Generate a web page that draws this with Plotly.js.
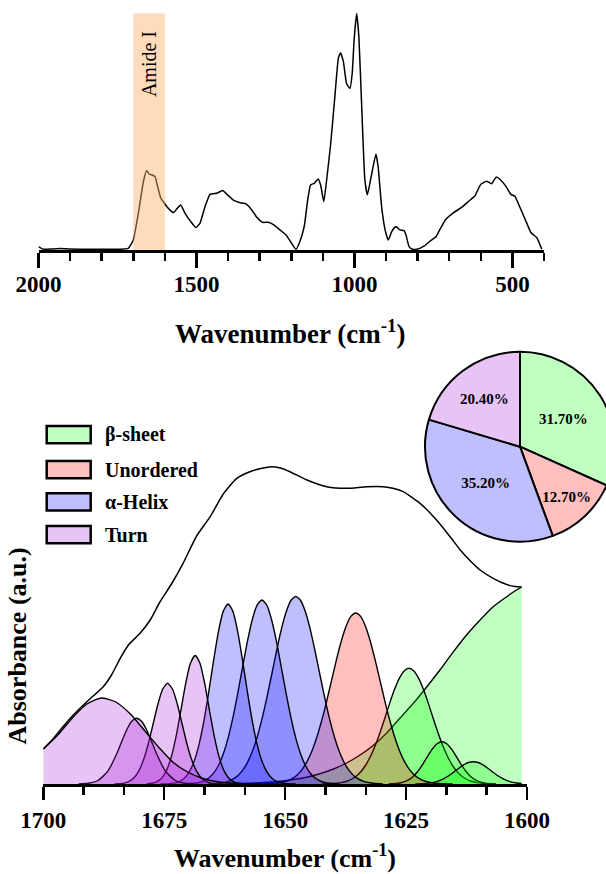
<!DOCTYPE html>
<html>
<head>
<meta charset="utf-8">
<script src="https://cdn.plot.ly/plotly-3.0.1.min.js"></script>
<style>
html, body { margin:0; padding:0; overflow:hidden; background:#fff; }
#chart { width:620px; height:874px; }
</style>
</head>
<body>
<div id="chart"></div>
<script>
// ---------- Top panel: full FTIR spectrum ----------
const topWavenumber = [2000,1990,1980,1960,1930,1900,1850,1800,1742,1716,1700,1684,1668,1658,1649,1640,1631,1623,1613,1605,1589,1573,1561,1550,1536,1518,1502,1489,1473,1457,1436,1417,1402,1383,1362,1343,1325,1309,1291,1273,1255,1236,1217,1202,1185,1173,1159,1148,1139,1127,1115,1107,1097,1088,1075,1062,1051,1044,1035,1025,1014,1007,1001,993,986,977,967,959,949,941,932,925,914,903,893,882,869,856,843,837,827,816,803,793,779,760,742,729.5,711,687,662,637.5,619,600.6,582,566,551.5,539,521,505,492.6,478,459.5,441,422.6,407];
const topAbsorbance = [0.011,0.003,0,0.001,0.003,0.001,0,0,0,0.004,0.039,0.152,0.286,0.332,0.318,0.314,0.307,0.265,0.217,0.201,0.173,0.155,0.173,0.187,0.152,0.117,0.092,0.110,0.180,0.232,0.237,0.248,0.230,0.208,0.197,0.192,0.166,0.135,0.114,0.114,0.103,0.082,0.061,0.032,0,0.032,0.096,0.208,0.272,0.279,0.297,0.272,0.201,0.293,0.448,0.645,0.807,0.831,0.793,0.701,0.680,0.744,0.885,0.997,0.899,0.603,0.293,0.230,0.293,0.349,0.403,0.349,0.180,0.082,0.039,0.075,0.096,0.082,0.079,0.061,0.011,0,0,0.004,0.014,0.035,0.053,0.084,0.126,0.154,0.176,0.204,0.225,0.274,0.288,0.277,0.305,0.295,0.267,0.232,0.225,0.183,0.126,0.070,0.049,0];
const topTickVals = [2000,1500,1000,500];
const amideBand = [1700,1600];
const amideLabel = 'Amide I';

// ---------- Bottom panel: Amide I band deconvolution ----------
const envelope = [[1700,35],[1698,45],[1696.5,54],[1693.8,69],[1691,82.3],[1687.6,97.3],[1685.9,109],[1684.1,125.7],[1682.4,139],[1680,150.7],[1677.9,164],[1675.9,182],[1673.5,200],[1671.1,220.7],[1668.3,248],[1665.5,267.3],[1662.8,290],[1660,305.7],[1657.3,312.3],[1655,315.5],[1652.8,317.3],[1651,316],[1649,312.3],[1645.5,304],[1641.4,297.3],[1637.3,295.7],[1633.1,297.3],[1629.7,297.3],[1627.5,295.5],[1625.6,292.3],[1622.1,280.7],[1618.7,264],[1615.9,247.3],[1613.8,234],[1611.5,222],[1609.7,214],[1607,205.7],[1604.2,199.5],[1602.5,197.5],[1601.1,197]];

const turn1 = [[1700,35],[1697,49],[1694,66],[1691,80],[1688,86],[1685,82],[1682,70],[1679,53],[1676,36],[1673,21],[1670,11.5],[1667,5.5],[1664,2.3],[1660,0.6],[1655,0]];
const turn2 = [[1692.7,0],[1690.7,0.7],[1688.7,3.5],[1686.7,12.6],[1684.7,31.5],[1683.7,43.5],[1682.7,54.7],[1681.7,62.7],[1680.7,65.7],[1679.7,62.7],[1678.7,54.7],[1677.7,43.5],[1676.7,31.5],[1674.7,12.6],[1672.7,3.5],[1670.7,0.7],[1668.7,0]];
const turn3 = [[1685.3,0],[1683.3,0.9],[1682.3,2.5],[1681.3,6],[1680.3,12.7],[1679.3,23.9],[1678.3,40],[1677.3,60],[1676.3,80],[1675.3,95],[1674.3,100.7],[1673.3,95],[1672.3,80],[1671.3,60],[1670.3,40],[1669.3,23.9],[1668.3,12.7],[1667.3,6],[1666.3,2.5],[1665.3,0.9],[1663.3,0]];
const turn4 = [[1678.6,0],[1677.6,0.7],[1676.6,2.2],[1675.6,5.6],[1674.6,12.9],[1673.6,26.1],[1672.6,46.3],[1671.6,72.4],[1670.6,99.6],[1669.6,120.5],[1668.6,128.5],[1667.6,120.5],[1666.6,99.6],[1665.6,72.4],[1664.6,46.3],[1663.6,26.1],[1662.6,12.9],[1661.6,5.6],[1660.6,2.2],[1659.6,0.7],[1658.6,0]];
const helix1 = [[1675.8,0],[1673.8,0.4],[1672.8,1.1],[1671.8,2.7],[1670.8,6],[1669.8,12.3],[1668.8,23],[1667.8,39.7],[1666.8,63],[1665.8,91.9],[1664.8,123.3],[1663.8,152.1],[1662.8,172.6],[1661.8,180],[1660.8,172.6],[1659.8,152.1],[1658.8,123.3],[1657.8,91.9],[1656.8,63],[1655.8,39.7],[1654.8,23],[1653.8,12.3],[1652.8,6],[1651.8,2.7],[1650.8,1.1],[1649.8,0.4],[1647.8,0]];
const helix2 = [[1670.8,0],[1668.8,0.7],[1667.8,1.5],[1666.8,3.1],[1665.8,6],[1664.8,10.8],[1663.8,18.5],[1662.8,30],[1661.8,45.9],[1660.8,66.3],[1659.8,90.6],[1658.8,116.9],[1657.8,142.6],[1656.8,164.3],[1655.8,178.9],[1654.8,184],[1653.8,178.9],[1652.8,164.3],[1651.8,142.6],[1650.8,116.9],[1649.8,90.6],[1648.8,66.3],[1647.8,45.9],[1646.8,30],[1645.8,18.5],[1644.8,10.8],[1643.8,6],[1642.8,3.1],[1641.8,1.5],[1640.8,0.7],[1638.8,0]];
const helix3 = [[1665.8,0],[1663.8,0.7],[1661.8,2.7],[1660.8,4.8],[1659.8,8.3],[1658.8,13.6],[1657.8,21.4],[1656.8,32.4],[1655.8,46.8],[1654.8,64.8],[1653.8,85.9],[1652.8,109],[1651.8,132.5],[1650.8,154.3],[1649.8,171.9],[1648.8,183.5],[1647.8,187.5],[1646.8,183.5],[1645.8,171.9],[1644.8,154.3],[1643.8,132.5],[1642.8,109],[1641.8,85.9],[1640.8,64.8],[1639.8,46.8],[1638.8,32.4],[1637.8,21.4],[1636.8,13.6],[1635.8,8.3],[1634.8,4.8],[1633.8,2.7],[1631.8,0.7],[1629.8,0]];
const unordered1 = [[1655.4,0],[1653.4,0.3],[1651.4,1],[1649.4,3.4],[1648.4,5.8],[1647.4,9.6],[1646.4,15.2],[1645.4,23.1],[1644.4,33.8],[1643.4,47.5],[1642.4,64.2],[1641.4,83.2],[1640.4,103.7],[1639.4,124.2],[1638.4,142.8],[1637.4,157.8],[1636.4,167.6],[1635.4,171],[1634.4,167.6],[1633.4,157.8],[1632.4,142.8],[1631.4,124.2],[1630.4,103.7],[1629.4,83.2],[1628.4,64.2],[1627.4,47.5],[1626.4,33.8],[1625.4,23.1],[1624.4,15.2],[1623.4,9.6],[1622.4,5.8],[1621.4,3.4],[1619.4,1],[1617.4,0.3],[1615.4,0]];
const beta1 = [[1642.4,0],[1640.4,0.4],[1638.4,1.4],[1637.4,2.5],[1636.4,4.5],[1635.4,7.5],[1634.4,12],[1633.4,18.5],[1632.4,27.2],[1631.4,38.2],[1630.4,51.3],[1629.4,65.7],[1628.4,80.6],[1627.4,94.4],[1626.4,105.7],[1625.4,113.1],[1624.4,115.7],[1623.4,113.1],[1622.4,105.7],[1621.4,94.4],[1620.4,80.6],[1619.4,65.7],[1618.4,51.3],[1617.4,38.2],[1616.4,27.2],[1615.4,18.5],[1614.4,12],[1613.4,7.5],[1612.4,4.5],[1611.4,2.5],[1610.4,1.4],[1608.4,0.4],[1606.4,0]];
const beta2 = [[1628.6,0],[1626.6,0.8],[1625.6,1.9],[1624.6,3.9],[1623.6,7.3],[1622.6,12.5],[1621.6,19.4],[1620.6,27.3],[1619.6,34.8],[1618.6,40.3],[1617.6,42.3],[1616.6,40.3],[1615.6,34.8],[1614.6,27.3],[1613.6,19.4],[1612.6,12.5],[1611.6,7.3],[1610.6,3.9],[1609.6,1.9],[1608.6,0.8],[1606.6,0]];
const beta3 = [[1623.1,0],[1621.1,0.5],[1620.1,1],[1619.1,1.9],[1618.1,3.4],[1617.1,5.6],[1616.1,8.5],[1615.1,12],[1614.1,15.8],[1613.1,19.1],[1612.1,21.5],[1611.1,22.3],[1610.1,21.5],[1609.1,19.1],[1608.1,15.8],[1607.1,12],[1606.1,8.5],[1605.1,5.6],[1604.1,3.4],[1603.1,1.9],[1602.1,1],[1601.1,0.5]];
const beta4 = [[1666,0],[1660,0.5],[1655,1.4],[1650,3.3],[1646,6.3],[1643,10],[1640,15],[1637.3,21],[1634.5,29],[1631.8,38.5],[1629,51],[1626.3,65.7],[1623.5,80.7],[1620.7,97.3],[1618,114],[1615.2,132.3],[1612.5,149],[1609.7,164],[1607,177.3],[1604.2,187.3],[1602.5,193],[1601.1,197]];

const bottomTickVals = [1700,1675,1650,1625,1600];

// ---------- Legend & pie ----------
const structureNames = ['β-sheet','Unordered','α-Helix','Turn'];
const piePercents = [31.7, 12.7, 35.2, 20.4];

// ---------- Styles ----------
const fillColors = {
  beta: 'rgba(0,255,0,0.25)',
  unord: 'rgba(255,0,0,0.25)',
  helix: 'rgba(0,0,255,0.25)',
  turn: 'rgba(163,15,215,0.25)'
};
const solidColors = ['rgb(191,255,191)','rgb(255,191,191)','rgb(191,191,255)','rgb(232,195,245)'];
const SERIF = 'Liberation Serif, Times New Roman, serif';
const W = 620, H = 874;
const px = v => v / W;
const py = v => 1 - v / H;

function comp(arr, color) {
  return {
    type:'scatter', mode:'lines', xaxis:'x2', yaxis:'y2',
    x: arr.map(p => p[0]), y: arr.map(p => p[1]),
    fill:'tozeroy', fillcolor: color,
    line:{color:'black', width:1.4, shape:'spline', smoothing:0.6},
    hoverinfo:'skip'
  };
}

const traces = [
  {type:'scatter', mode:'lines', x: topWavenumber, y: topAbsorbance, xaxis:'x', yaxis:'y',
   line:{color:'black', width:1.5, shape:'spline', smoothing:0.4}, hoverinfo:'skip'},
  comp(beta4, fillColors.beta),
  comp(beta1, fillColors.beta),
  comp(beta2, fillColors.beta),
  comp(beta3, fillColors.beta),
  comp(unordered1, fillColors.unord),
  comp(helix3, fillColors.helix),
  comp(helix2, fillColors.helix),
  comp(helix1, fillColors.helix),
  comp(turn4, fillColors.turn),
  comp(turn3, fillColors.turn),
  comp(turn2, fillColors.turn),
  comp(turn1, fillColors.turn),
  {type:'scatter', mode:'lines', xaxis:'x2', yaxis:'y2',
   x: envelope.map(p => p[0]), y: envelope.map(p => p[1]),
   line:{color:'black', width:1.5, shape:'spline', smoothing:0.6}, hoverinfo:'skip'},
  {type:'pie', values: piePercents, labels: structureNames, sort:false, direction:'clockwise', rotation:0,
   marker:{colors: solidColors, line:{color:'black', width:2}},
   texttemplate:'%{value:.2f}%', textposition:'inside', insidetextorientation:'horizontal',
   textfont:{family:SERIF, size:15, weight:700, color:'black'},
   domain:{x:[px(425), px(615)], y:[py(541.7), py(351.7)]},
   hoverinfo:'skip', showlegend:false}
];

const axisCommon = {
  showline:true, linewidth:3, linecolor:'black', mirror:false,
  ticks:'outside', tickwidth:2.5, tickcolor:'black',
  tickfont:{family:SERIF, size:23, weight:700, color:'black'},
  showgrid:false, zeroline:false, fixedrange:true
};

const shapes = [
  {type:'rect', xref:'x', yref:'y', x0: amideBand[0], x1: amideBand[1], y0:-0.003, y1:0.9966,
   fillcolor:'rgba(250,175,105,0.45)', line:{width:0}, layer:'above'}
];
const annotations = [
  {xref:'x', yref:'paper', x:1650, y: py(64), text: amideLabel, textangle:-90, showarrow:false,
   xanchor:'center', yanchor:'middle', font:{family:SERIF, size:20, color:'black'}},
  {xref:'paper', yref:'paper', x: px(290), y: py(332), text:'Wavenumber (cm<sup>-1</sup>)', showarrow:false,
   xanchor:'center', yanchor:'middle', font:{family:SERIF, size:27, weight:700, color:'black'}},
  {xref:'paper', yref:'paper', x: px(285), y: py(856), text:'Wavenumber (cm<sup>-1</sup>)', showarrow:false,
   xanchor:'center', yanchor:'middle', font:{family:SERIF, size:26, weight:700, color:'black'}},
  {xref:'paper', yref:'paper', x: 0, y: py(646), text:'Absorbance (a.u.)', textangle:-90, showarrow:false,
   xanchor:'left', yanchor:'middle', font:{family:SERIF, size:26, weight:700, color:'black'}}
];
const legendFills = [fillColors.beta, fillColors.unord, fillColors.helix, fillColors.turn];
const legendTops = [426, 461, 493.3, 526];
structureNames.forEach((name, i) => {
  const t = legendTops[i];
  shapes.push({type:'rect', xref:'paper', yref:'paper', x0: px(46.7), x1: px(90.7), y0: py(t+17.3), y1: py(t),
    fillcolor: legendFills[i], line:{color:'black', width:2.5}, layer:'above'});
  annotations.push({xref:'paper', yref:'paper', x: px(103), y: py(t+8.7), text: name, showarrow:false,
    xanchor:'left', yanchor:'middle', font:{family:SERIF, size:20, weight:700, color:'black'}});
});

const layout = {
  width: W, height: H,
  margin:{l:0, r:0, t:0, b:0},
  paper_bgcolor:'white', plot_bgcolor:'rgba(0,0,0,0)',
  showlegend:false,
  font:{family:SERIF, color:'black'},
  xaxis: Object.assign({}, axisCommon, {
    domain:[px(38.5), px(544)], range:[2000, 400], anchor:'y',
    tickmode:'array', tickvals: topTickVals, ticklen:15, ticklabelstandoff:-4,
    minor:{ticks:'outside', dtick:100, tick0:0, ticklen:8, tickwidth:2.5, tickcolor:'black'}
  }),
  yaxis: {domain:[py(250), py(5)], range:[-0.003, 1.0325], visible:false, fixedrange:true, anchor:'x'},
  xaxis2: Object.assign({}, axisCommon, {
    domain:[px(43.3), px(527)], range:[1700, 1600], anchor:'y2',
    tickmode:'array', tickvals: bottomTickVals, ticklen:13,
    minor:{ticks:'outside', dtick:25/3, tick0:1600, ticklen:8, tickwidth:2.5, tickcolor:'black'}
  }),
  yaxis2: {domain:[py(784), py(440)], range:[0, 344], visible:false, fixedrange:true, anchor:'x2'},
  shapes: shapes,
  annotations: annotations
};

Plotly.newPlot('chart', traces, layout, {staticPlot:true, displayModeBar:false});
</script>
</body>
</html>
